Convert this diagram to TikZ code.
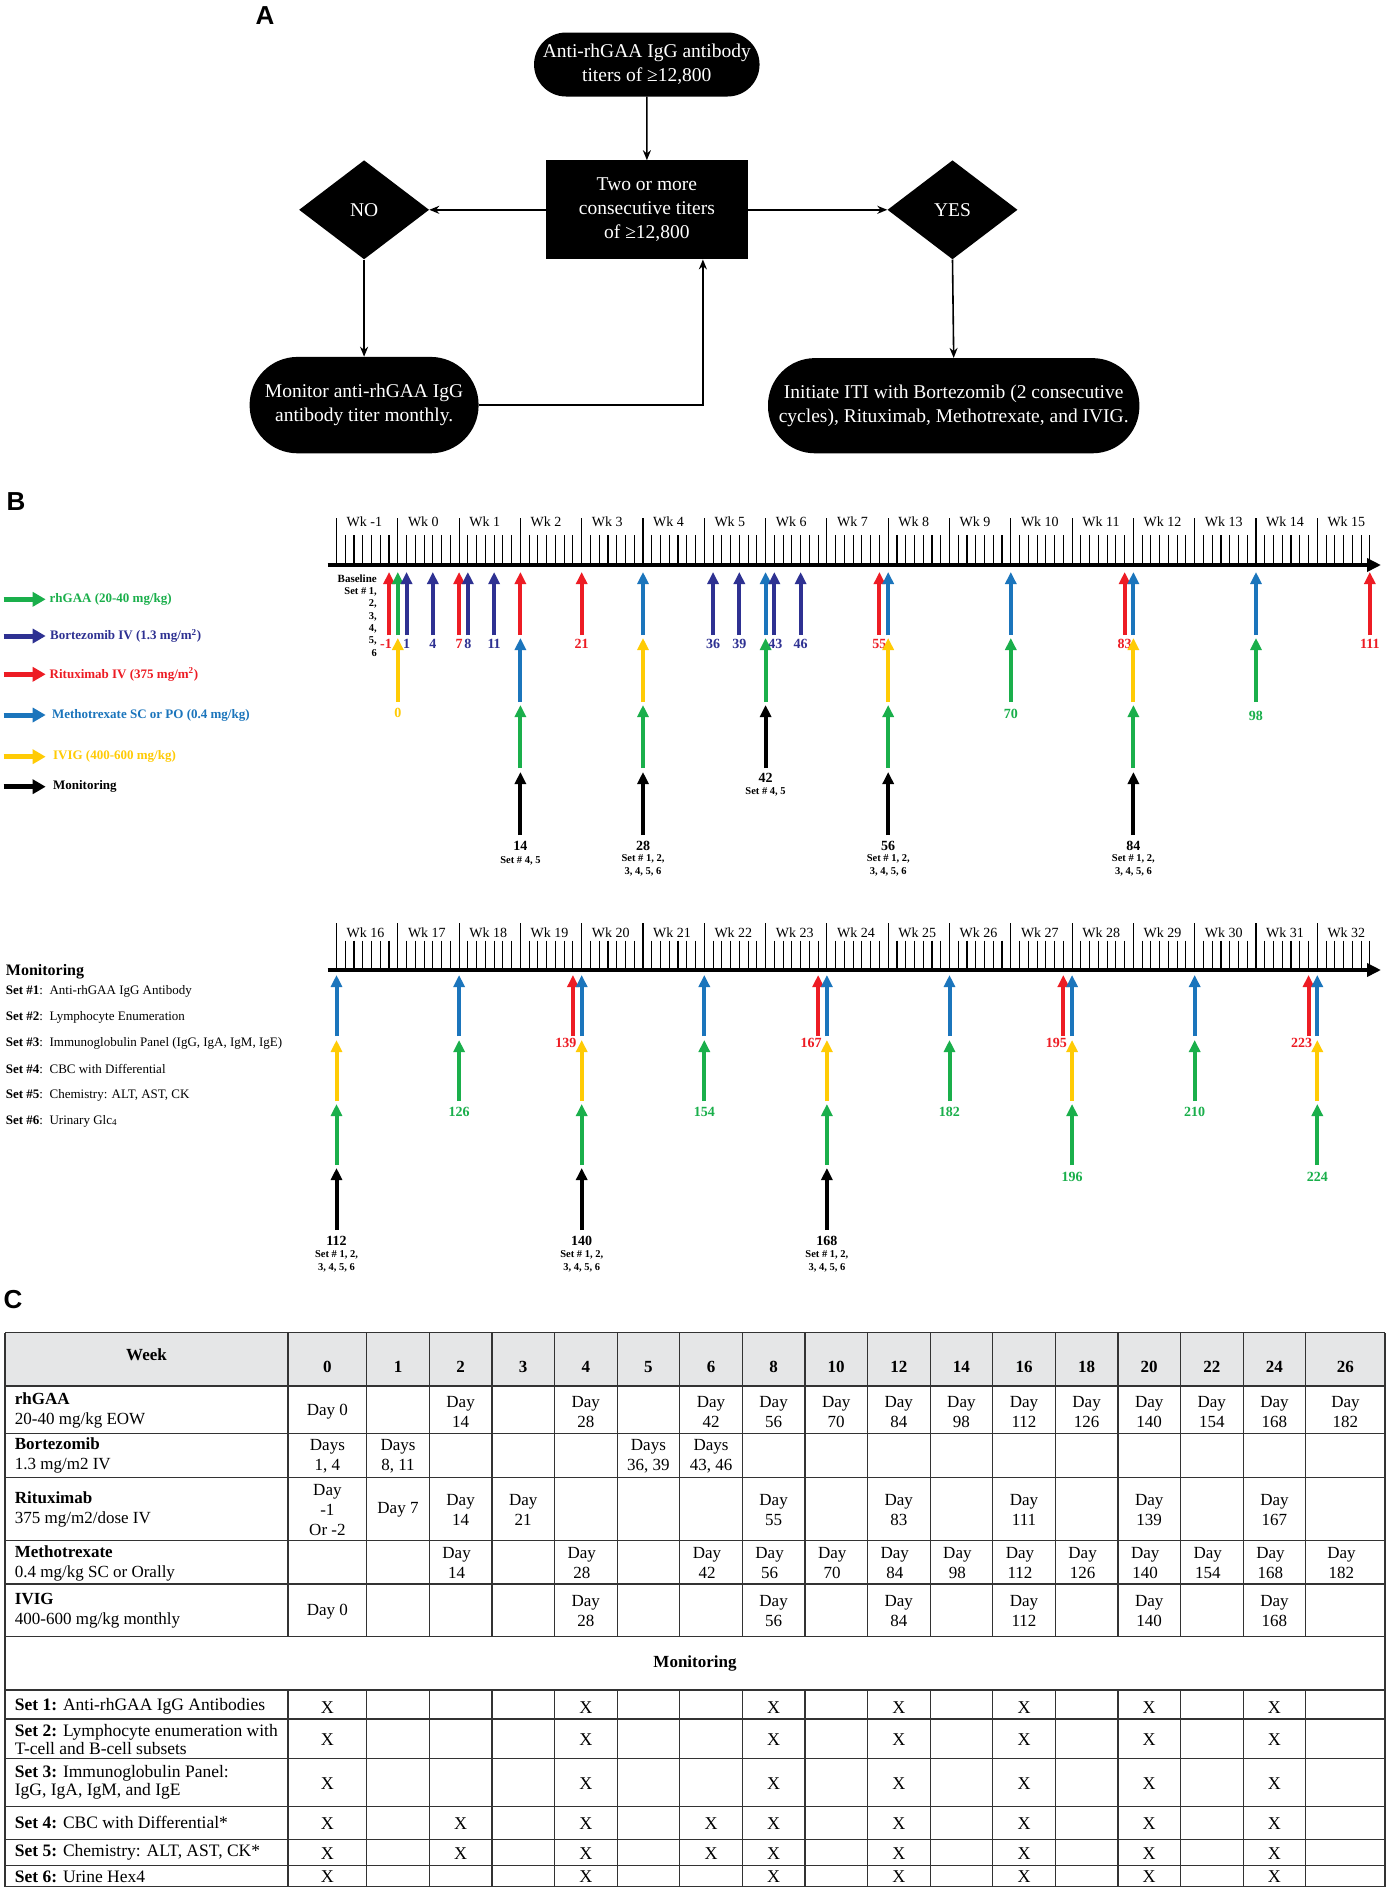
\documentclass[tikz,border=0pt]{standalone}
\usepackage{fontspec}
\setmainfont{Liberation Serif}
\newfontfamily\panelfont{Liberation Sans}
\usetikzlibrary{arrows.meta,shapes.geometric}
\definecolor{cgreen}{RGB}{26,175,75}
\definecolor{cnavy}{RGB}{46,49,146}
\definecolor{cred}{RGB}{237,28,36}
\definecolor{cblue}{RGB}{27,117,188}
\definecolor{cyellow}{RGB}{255,203,5}
\definecolor{hdrgray}{RGB}{229,230,231}
\newcommand\fs[2]{\fontsize{#1}{#2}\selectfont}
\newcommand\tx[1]{397.8+8.757*(#1)}
\newcommand\bx[1]{336.5+8.757*(#1-112)}
\tikzset{
  tlarr/.style={line width=4pt,-{Triangle[width=11pt,length=12pt]}},
  lgarr/.style={line width=5pt,-{Triangle[width=14pt,length=13pt]}},
  numlab/.style={font=\bfseries\fs{14}{14},inner sep=0pt},
  setlab/.style={font=\bfseries\fs{10.5}{12.5},inner sep=0pt,align=center},
  tickln/.style={line width=1.1pt},
  wklab/.style={font=\fs{14}{14},inner sep=0pt,anchor=west},
  blk/.style={fill=black,text=white,font=\fs{19.5}{24},align=center,inner sep=0pt},
  flow/.style={line width=1.6pt,-{Stealth[length=10pt,width=8pt]}},
  tline/.style={line width=1.2pt,draw=black!80},
  cellt/.style={font=\fs{17}{20},align=center,inner sep=0pt},
  hdr/.style={font=\bfseries\fs{17}{20},inner sep=0pt},
  rowlab/.style={font=\fs{17}{20},align=left,inner sep=0pt,anchor=west},
  setrow/.style={font=\fs{17.5}{18},align=left,inner sep=0pt,anchor=west},
  xm/.style={font=\fs{18}{18},inner sep=0pt},
  lgtext/.style={font=\bfseries\fs{13}{13},inner sep=0pt,anchor=west},
  panel/.style={font=\panelfont\bfseries\fs{26}{26},inner sep=0pt},
}
\newcommand\TA[4]{\draw[tlarr,#4] ({#1},#3) -- ({#1},#2);}
\newcommand\tA[2]{\TA{\tx{#1}}{572}{635}{#2}}
\newcommand\tB[2]{\TA{\tx{#1}}{638}{702}{#2}}
\newcommand\tC[2]{\TA{\tx{#1}}{705}{768}{#2}}
\newcommand\tD[2]{\TA{\tx{#1}}{772}{835}{#2}}
\newcommand\bA[2]{\TA{\bx{#1}}{975}{1036}{#2}}
\newcommand\bB[2]{\TA{\bx{#1}}{1040}{1101}{#2}}
\newcommand\bC[2]{\TA{\bx{#1}}{1104}{1165}{#2}}
\newcommand\bD[2]{\TA{\bx{#1}}{1168}{1230}{#2}}
\newcommand\NL[5]{\node[numlab,text=#4] (#1) at ({#2},#3) {#5};}
\newcommand\LG[5]{\coordinate (#1s) at (3.6,#2); \coordinate (#1e) at (45.7,#2);
  \draw[lgarr,#3] (#1s) -- (#1e); \node[lgtext,text=#3] (#1) at (#4,#2) {#5};}
\begin{document}
\begin{tikzpicture}[x=1pt,y=-1pt]
\useasboundingbox[fill=white] (0,0) rectangle (1389,1891);

% ---------------- Panel A ----------------
\node[panel] (lA) at (265,16) {A};
\node[blk,rounded corners=32pt,minimum width=225.5pt,minimum height=64pt] (top) at (646.8,64.5) {Anti-rhGAA IgG antibody\\titers of ≥12,800};
\node[blk,minimum width=201.3pt,minimum height=98.8pt] (mid) at (646.9,209.8) {Two or more\\consecutive titers\\of ≥12,800};
\node[blk,diamond,minimum width=130pt,minimum height=99pt] (no) at (364.1,209.8) {NO};
\node[blk,diamond,minimum width=130pt,minimum height=99pt] (yes) at (952.5,209.8) {YES};
\node[blk,rounded corners=48pt,minimum width=229pt,minimum height=96.4pt] (mon) at (364.1,405.1) {Monitor anti-rhGAA IgG\\antibody titer monthly.};
\node[blk,rounded corners=47pt,minimum width=371.4pt,minimum height=95.2pt] (init) at (953.7,405.7) {Initiate ITI with Bortezomib (2 consecutive\\cycles), Rituximab, Methotrexate, and IVIG.};
\draw[flow] (top.south) -- (mid.north);
\draw[flow] (mid.west) -- (no.east);
\draw[flow] (mid.east) -- (yes.west);
\draw[flow] (no.south) -- (mon.north);
\draw[flow] (yes.south) -- (init.north);
\coordinate (bend) at (702.9,405.1);
\draw[flow] (mon.east) -- (bend) -- (bend |- mid.south);

% ---------------- Panel B ----------------
\node[panel] (lB) at (16,502) {B};
\LG{lg1}{599.3}{cgreen}{49.5}{rhGAA (20-40 mg/kg)}
\LG{lg2}{636}{cnavy}{50}{Bortezomib IV (1.3 mg/m\textsuperscript{2})}
\LG{lg3}{674.3}{cred}{49.5}{Rituximab IV (375 mg/m\textsuperscript{2})}
\LG{lg4}{715}{cblue}{51.8}{Methotrexate SC or PO (0.4 mg/kg)}
\LG{lg5}{756.7}{cyellow}{52.9}{IVIG (400-600 mg/kg)}
\LG{lg6}{786.7}{black}{52.9}{Monitoring}

% axes and ticks
\foreach \k in {0,...,118}{%
  \pgfmathsetmacro\xx{336.5+8.757*\k}%
  \pgfmathtruncatemacro\mm{mod(\k,7)}%
  \ifnum\mm=0 \draw[tickln] (\xx,518.3) -- (\xx,565);\else \draw[tickln] (\xx,535) -- (\xx,565);\fi
  \ifnum\mm=0 \draw[tickln] (\xx,923.3) -- (\xx,970);\else \draw[tickln] (\xx,940.7) -- (\xx,970);\fi
}
\coordinate (axAs) at (327.6,565); \coordinate (axAe) at (1381,565);
\draw[line width=4.5pt,-{Triangle[width=13pt,length=14pt]}] (axAs) -- (axAe);
\coordinate (axBs) at (327.6,970); \coordinate (axBe) at (1381,970);
\draw[line width=4.5pt,-{Triangle[width=13pt,length=14pt]}] (axBs) -- (axBe);
\foreach \w [count=\i from 0] in {-1,0,1,...,15}{\node[wklab] (wkt\i) at ({336.5+61.3*\i+10},521.7) {Wk \w};}
\foreach \w [count=\i from 0] in {16,17,...,32}{\node[wklab] (wkb\i) at ({336.5+61.3*\i+10},932.7) {Wk \w};}

\node[font=\bfseries\fs{10.5}{12.3},align=right,inner sep=0pt,anchor=north east] (base) at (377,574.5) {{\fs{11}{12.3}Baseline}\\Set \# 1,\\2,\\3,\\4,\\5,\\6};

% top row 1
\tA{-1}{cred}\tA{0}{cgreen}\tA{1}{cnavy}\tA{4}{cnavy}\tA{7}{cred}\tA{8}{cnavy}\tA{11}{cnavy}
\tA{14}{cred}\tA{21}{cred}\tA{28}{cblue}\tA{36}{cnavy}\tA{39}{cnavy}\tA{42}{cblue}\tA{43}{cnavy}
\tA{46}{cnavy}\tA{55}{cred}\tA{56}{cblue}\tA{70}{cblue}\tA{83}{cred}\tA{84}{cblue}\tA{98}{cblue}\tA{111}{cred}
\NL{ta1}{\tx{-1}-3}{644}{cred}{-1}
\NL{ta2}{\tx{1}}{644}{cnavy}{1}
\NL{ta3}{\tx{4}}{644}{cnavy}{4}
\NL{ta4}{\tx{7}}{644}{cred}{7}
\NL{ta5}{\tx{8}}{644}{cnavy}{8}
\NL{ta6}{\tx{11}}{644}{cnavy}{11}
\NL{ta7}{\tx{21}}{644}{cred}{21}
\NL{ta8}{\tx{36}}{644}{cnavy}{36}
\NL{ta9}{\tx{39}}{644}{cnavy}{39}
\NL{ta10}{\tx{43}+1}{644}{cnavy}{43}
\NL{ta11}{\tx{46}}{644}{cnavy}{46}
\NL{ta12}{\tx{55}}{644}{cred}{55}
\NL{ta13}{\tx{83}}{644}{cred}{83}
\NL{ta14}{\tx{111}}{644}{cred}{111}
% top row 2
\tB{0}{cyellow}\tB{14}{cblue}\tB{28}{cyellow}\tB{42}{cgreen}\tB{56}{cyellow}\tB{70}{cgreen}\tB{84}{cyellow}\tB{98}{cgreen}
\NL{tb1}{\tx{0}}{712.7}{cyellow}{0}
\NL{tb2}{\tx{70}}{714.3}{cgreen}{70}
\NL{tb3}{\tx{98}}{715.5}{cgreen}{98}
% top row 3
\tC{14}{cgreen}\tC{28}{cgreen}\tC{42}{black}\tC{56}{cgreen}\tC{84}{cgreen}
\NL{tc1}{\tx{42}}{778.3}{black}{42}
\node[setlab] (tc1s) at ({\tx{42}},792.3) {Set \# 4, 5};
% top row 4
\tD{14}{black}\tD{28}{black}\tD{56}{black}\tD{84}{black}
\NL{td1}{\tx{14}}{846}{black}{14}
\node[setlab] (td1s) at ({\tx{14}},861) {Set \# 4, 5};
\NL{td2}{\tx{28}}{846}{black}{28}
\node[setlab] (td2s) at ({\tx{28}},865.5) {Set \# 1, 2,\\3, 4, 5, 6};
\NL{td3}{\tx{56}}{846}{black}{56}
\node[setlab] (td3s) at ({\tx{56}},865.5) {Set \# 1, 2,\\3, 4, 5, 6};
\NL{td4}{\tx{84}}{846}{black}{84}
\node[setlab] (td4s) at ({\tx{84}},865.5) {Set \# 1, 2,\\3, 4, 5, 6};

% bottom legend
\node[font=\bfseries\fs{16}{16},inner sep=0pt,anchor=west] (monleg) at (5.7,971.7) {Monitoring};
\node[font=\fs{13}{13},inner sep=0pt,anchor=west] (ms1) at (5.7,991) {\textbf{Set \#1}:\ \ Anti-rhGAA IgG Antibody};
\node[font=\fs{13}{13},inner sep=0pt,anchor=west] (ms2) at (5.7,1017.3) {\textbf{Set \#2}:\ \ Lymphocyte Enumeration};
\node[font=\fs{13}{13},inner sep=0pt,anchor=west] (ms3) at (5.7,1043.3) {\textbf{Set \#3}:\ \ Immunoglobulin Panel (IgG, IgA, IgM, IgE)};
\node[font=\fs{13}{13},inner sep=0pt,anchor=west] (ms4) at (5.7,1069.3) {\textbf{Set \#4}:\ \ CBC with Differential};
\node[font=\fs{13}{13},inner sep=0pt,anchor=west] (ms5) at (5.7,1095.7) {\textbf{Set \#5}:\ \ Chemistry: ALT, AST, CK};
\node[font=\fs{13}{13},inner sep=0pt,anchor=west] (ms6) at (5.7,1121) {\textbf{Set \#6}:\ \ Urinary Glc\textsubscript{4}};

% bottom row 1
\bA{112}{cblue}\bA{126}{cblue}\bA{139}{cred}\bA{140}{cblue}\bA{154}{cblue}\bA{167}{cred}\bA{168}{cblue}
\bA{182}{cblue}\bA{195}{cred}\bA{196}{cblue}\bA{210}{cblue}\bA{223}{cred}\bA{224}{cblue}
\NL{ba1}{\bx{139}-7}{1043.3}{cred}{139}
\NL{ba2}{\bx{167}-7}{1043.3}{cred}{167}
\NL{ba3}{\bx{195}-7}{1043.3}{cred}{195}
\NL{ba4}{\bx{223}-7}{1043.3}{cred}{223}
% bottom row 2
\bB{112}{cyellow}\bB{126}{cgreen}\bB{140}{cyellow}\bB{154}{cgreen}\bB{168}{cyellow}\bB{182}{cgreen}\bB{196}{cyellow}\bB{210}{cgreen}\bB{224}{cyellow}
\NL{bb1}{\bx{126}}{1112}{cgreen}{126}
\NL{bb2}{\bx{154}}{1112}{cgreen}{154}
\NL{bb3}{\bx{182}}{1112}{cgreen}{182}
\NL{bb4}{\bx{210}}{1112}{cgreen}{210}
% bottom row 3
\bC{112}{cgreen}\bC{140}{cgreen}\bC{168}{cgreen}\bC{196}{cgreen}\bC{224}{cgreen}
\NL{bc1}{\bx{196}}{1177}{cgreen}{196}
\NL{bc2}{\bx{224}}{1177}{cgreen}{224}
% bottom row 4
\bD{112}{black}\bD{140}{black}\bD{168}{black}
\NL{bd1}{\bx{112}}{1241}{black}{112}
\node[setlab] (bd1s) at ({\bx{112}},1261.5) {Set \# 1, 2,\\3, 4, 5, 6};
\NL{bd2}{\bx{140}}{1241}{black}{140}
\node[setlab] (bd2s) at ({\bx{140}},1261.5) {Set \# 1, 2,\\3, 4, 5, 6};
\NL{bd3}{\bx{168}}{1241}{black}{168}
\node[setlab] (bd3s) at ({\bx{168}},1261.5) {Set \# 1, 2,\\3, 4, 5, 6};

% ---------------- Panel C ----------------
\node[panel] (lC) at (13,1300) {C};
\fill[hdrgray] (5,1332.7) rectangle (1385,1386);
\foreach \y in {1332.7,1386,1433.3,1477.3,1540.7,1584,1636.7,1690,1719,1758.3,1806.7,1839.3,1865.3,1886.7}
  \draw[tline] (5,\y) -- (1385,\y);
\draw[tline] (5,1332.7) -- (5,1886.7);
\draw[tline] (1385,1332.7) -- (1385,1886.7);
\foreach \x in {288,366.7,429.3,491.9,554.5,617.1,679.7,742.3,804.9,867.5,930.1,992.7,1055.3,1117.9,1180.5,1243.1,1305.7}{
  \draw[tline] (\x,1332.7) -- (\x,1636.7);
  \draw[tline] (\x,1690) -- (\x,1886.7);
}
\node[hdr] (hweek) at (146.5,1355) {Week};
\foreach \x/\n in {327.4/0,398/1,460.6/2,523.2/3,585.8/4,648.4/5,711/6,773.6/8,836.2/10,898.8/12,961.4/14,1024/16,1086.6/18,1149.2/20,1211.8/22,1274.4/24,1345.4/26}
  \node[hdr] (h\n) at (\x,1366.7) {\n};

\node[rowlab] (rl1) at (14.7,1410.5) {\textbf{rhGAA}\\20-40 mg/kg EOW};
\node[rowlab] (rl2) at (14.7,1455.8) {\textbf{Bortezomib}\\1.3 mg/m2 IV};
\node[rowlab] (rl3) at (14.7,1509.7) {\textbf{Rituximab}\\375 mg/m2/dose IV};
\node[rowlab] (rl4) at (14.7,1563) {\textbf{Methotrexate}\\0.4 mg/kg SC or Orally};
\node[rowlab] (rl5) at (14.7,1611) {\textbf{IVIG}\\400-600 mg/kg monthly};

% rhGAA
\node[cellt] (r1c0) at (327.4,1411.7) {Day 0};
\foreach \x/\t in {460.6/14,585.8/28,711/42,773.6/56,836.2/70,898.8/84,961.4/98,1024/112,1086.6/126,1149.2/140,1211.8/154,1274.4/168,1345.4/182}
  \node[cellt] (r1d\t) at (\x,1411.7) {Day\\\t};
% Bortezomib
\node[cellt] (r2a) at (327.4,1455.9) {Days\\1, 4};
\node[cellt] (r2b) at (398,1455.9) {Days\\8, 11};
\node[cellt] (r2c) at (648.4,1455.9) {Days\\36, 39};
\node[cellt] (r2d) at (711,1455.9) {Days\\43, 46};
% Rituximab
\node[cellt] (r3a) at (327.4,1510) {Day\\-1\\Or -2};
\node[cellt] (r3b) at (398,1510) {Day 7};
\foreach \x/\t in {460.6/14,523.2/21,773.6/55,898.8/83,1024/111,1149.2/139,1274.4/167}
  \node[cellt] (r3d\t) at (\x,1509.7) {Day\\\t};
% Methotrexate
\foreach \x/\t in {460.6/14,585.8/28,711/42,773.6/56,836.2/70,898.8/84,961.4/98,1024/112,1086.6/126,1149.2/140,1211.8/154,1274.4/168,1345.4/182}
  \node[cellt] (r4d\t) at (\x-4,1563) {Day\\\t};
% IVIG
\node[cellt] (r5c0) at (327.4,1611.5) {Day 0};
\foreach \x/\t in {585.8/28,773.6/56,898.8/84,1024/112,1149.2/140,1274.4/168}
  \node[cellt] (r5d\t) at (\x,1610.5) {Day\\\t};

\node[hdr] (monhdr) at (695,1663.3) {Monitoring};
\node[setrow] (s1) at (14.7,1706) {\textbf{Set 1:} Anti-rhGAA IgG Antibodies};
\node[setrow] (s2) at (14.7,1739) {\textbf{Set 2:} Lymphocyte enumeration with\\T-cell and B-cell subsets};
\node[setrow] (s3) at (14.7,1782.5) {\textbf{Set 3:} Immunoglobulin Panel:\\IgG, IgA, IgM, and IgE};
\node[setrow] (s4) at (14.7,1822.7) {\textbf{Set 4:} CBC with Differential*};
\node[setrow] (s5) at (14.7,1852.7) {\textbf{Set 5:} Chemistry: ALT, AST, CK*};
\node[setrow] (s6) at (14.7,1876.7) {\textbf{Set 6:} Urine Hex4};
\foreach \y [count=\i] in {1707.3,1740,1783.3,1824,1853.3,1876.7}
  \foreach \x [count=\j] in {327.4,585.8,773.6,898.8,1024,1149.2,1274.4}
    \node[xm] (xm-\i-\j) at (\x,\y) {X};
\foreach \y [count=\i] in {1824,1853.3}
  \foreach \x [count=\j] in {460.6,711}
    \node[xm] (xe-\i-\j) at (\x,\y) {X};
\end{tikzpicture}
\end{document}
